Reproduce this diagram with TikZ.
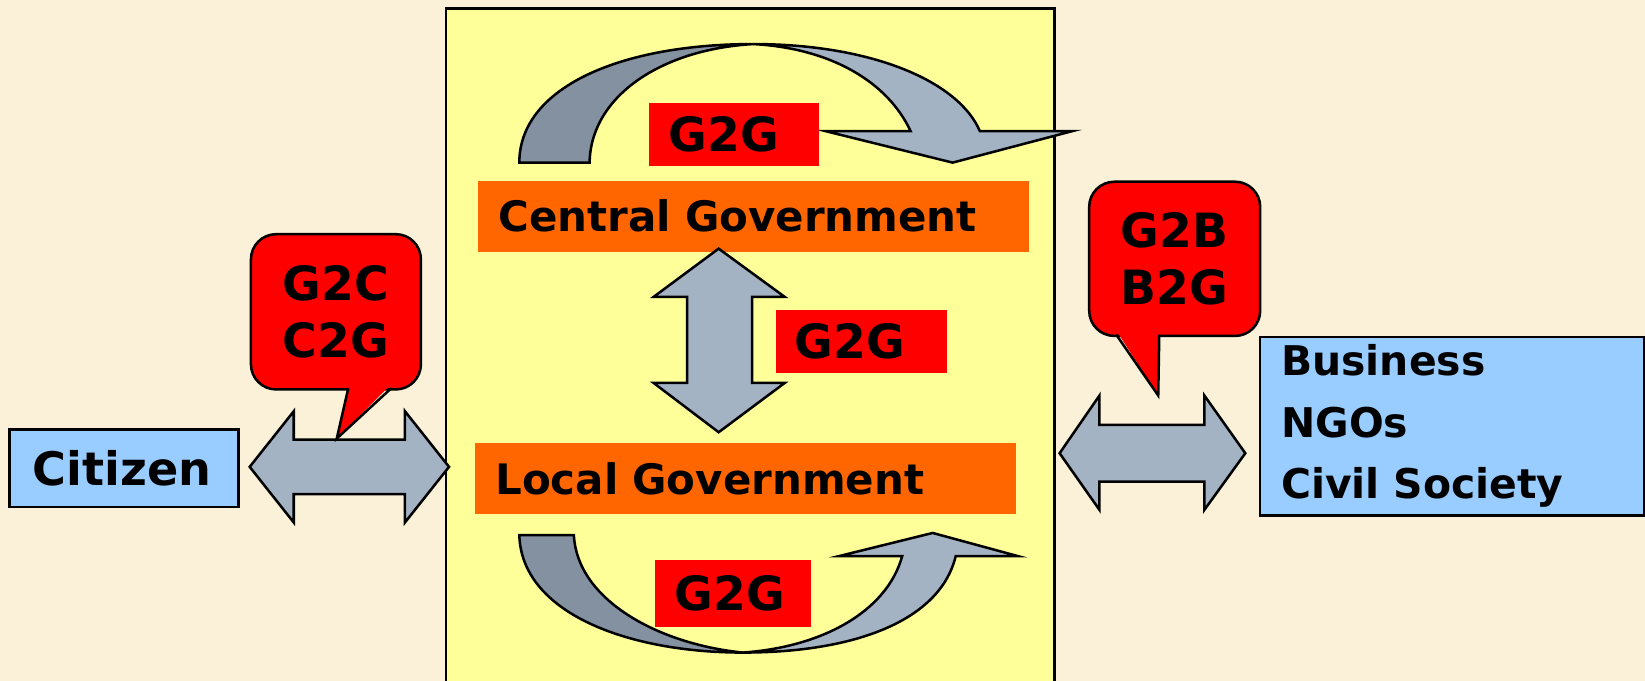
\documentclass[tikz,border=0pt]{standalone}
\usepackage{fontspec}
\setmainfont{DejaVu Sans}
\usepackage{xcolor}
\usepackage{tikz}
\usetikzlibrary{positioning}
\definecolor{bgbeige}{RGB}{251,241,216}
\definecolor{govyellow}{RGB}{255,255,153}
\definecolor{govorange}{RGB}{255,102,0}
\definecolor{partyblue}{RGB}{153,204,255}
\definecolor{arrowdark}{RGB}{131,145,160}
\definecolor{arrowlight}{RGB}{164,179,196}
\tikzset{
  lbl/.style = {font=\bfseries\fontsize{40}{48}\selectfont, inner sep=0pt,
    anchor=north west, align=left},
  gov_bar/.style = {lbl, fill=govorange, minimum height=68pt},% barre gouvernement
  g2g_box/.style = {lbl, fill=red, minimum height=60pt,
    font=\bfseries\fontsize{45}{54}\selectfont},% etiquette G2G
  party_box/.style = {lbl, fill=partyblue, draw=black, line width=2.4pt},
  callout_body/.style = {lbl, fill=red, draw=black, line width=2.4pt,
    rounded corners=24pt, align=center,
    font=\bfseries\fontsize{45}{54}\selectfont},% bulle
  blk_dark/.style = {fill=arrowdark, draw=black, line width=2.4pt},
  blk_light/.style = {fill=arrowlight, draw=black, line width=2.4pt}
}

\begin{document}
\begin{tikzpicture}[x=1pt,y=-1pt,line join=miter]
\fill[bgbeige] (0,0) rectangle (1568,649);
\useasboundingbox (0,0) rectangle (1568,649);
\filldraw[fill=govyellow, draw=black, line width=2.4pt] (425,8) rectangle (1005,670);

% boucle du haut
\filldraw[blk_dark] (495,155) .. controls (495,84) and (590,42) .. (718,42)
  .. controls (630,47) and (563,92) .. (562,155) -- cycle;
\filldraw[blk_light] (718,42) .. controls (832,42) and (914,78) .. (934,125)
  -- (1022,125) -- (908,155) -- (787,125) -- (868,125)
  .. controls (846,78) and (792,46) .. (718,42) -- cycle;

% boucle du bas
\filldraw[blk_dark] (495,510) .. controls (497,584) and (598,622) .. (708,622)
  .. controls (628,614) and (550,572) .. (547,510) -- cycle;
\filldraw[blk_light] (708,622) .. controls (814,622) and (896,592) .. (911,530)
  -- (970,530) -- (889,508) -- (800,530) -- (860,530)
  .. controls (845,584) and (782,617) .. (708,622) -- cycle;

\node[gov_bar, text width=486pt, inner xsep=20pt] (central) at (455,172) {Central Government};
\node[gov_bar, text width=477pt, inner xsep=19pt] (local) at (453,422) {Local Government};

\node[g2g_box, text width=124pt, inner xsep=19pt] (g2g_top) at (618,98) {G2G};
\node[g2g_box, text width=127pt, inner xsep=18pt] (g2g_mid) at (739,295) {G2G};
\node[g2g_box, text width=111pt, inner xsep=19pt, minimum height=63pt] (g2g_bot) at (624,534) {G2G};

% fleches doubles
\filldraw[blk_light] (685,237) -- (748,283) -- (717,283) -- (717,365) -- (748,365)
  -- (685,412) -- (623,365) -- (655,365) -- (655,283) -- (623,283) -- cycle;
\filldraw[blk_light] (238,445) -- (280,392) -- (280,419) -- (386,419) -- (386,392)
  -- (428,445) -- (386,498) -- (386,471) -- (280,471) -- (280,498) -- cycle;
\filldraw[blk_light] (1010,432) -- (1048,377) -- (1048,405) -- (1148,405) -- (1148,377)
  -- (1187,432) -- (1148,486) -- (1148,459) -- (1048,459) -- (1048,486) -- cycle;

\node[party_box, text width=174pt, inner xsep=22pt, minimum height=74pt,
  font=\bfseries\fontsize{44}{52}\selectfont] (citizen) at (8,408) {Citizen};
\node[party_box, text width=326pt, inner xsep=20pt, minimum height=170pt,
  font=\bfseries\fontsize{39}{58.5}\selectfont] (society) at (1200,320)
  {Business\\NGOs\\Civil Society};

% bulles
\node[callout_body, minimum width=162pt, minimum height=148pt] (g2c) at (238,222) {G2C\\C2G};
\coordinate (g2c_tip) at (321,418);
\fill[red] (332,366) -- (g2c_tip) -- (373,366) -- cycle;
\draw[line width=2.4pt] (332,370) -- (g2c_tip) -- (373,370);

\node[callout_body, minimum width=163pt, minimum height=147pt] (g2b) at (1037,172) {G2B\\B2G};
\coordinate (g2b_tip) at (1104,377);
\fill[red] (1064,315) -- (g2b_tip) -- (1105,315) -- cycle;
\draw[line width=2.4pt] (1064,319) -- (g2b_tip) -- (1105,319);
\end{tikzpicture}
\end{document}
